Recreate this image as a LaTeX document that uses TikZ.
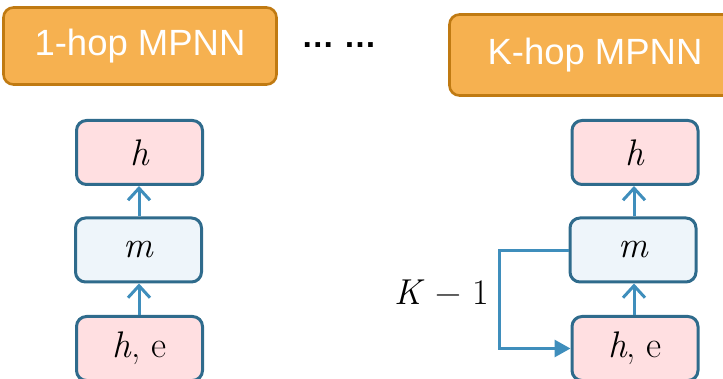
\documentclass[tikz,border=0pt]{standalone}
\usepackage{fontspec}
\newfontfamily\labelfont{Liberation Sans}
\usetikzlibrary{arrows.meta}

\definecolor{hopfill}{HTML}{F6B150}
\definecolor{hopline}{HTML}{C07A12}
\definecolor{statefill}{HTML}{FFDFE1}
\definecolor{msgfill}{HTML}{EEF5FA}
\definecolor{boxline}{HTML}{2F6B8C}
\definecolor{flowline}{HTML}{3F8EBC}

\tikzset{
  hopbox/.style={draw=hopline, fill=hopfill, line width=2.6pt, rounded corners=10pt,
    text=white, font=\labelfont\fontsize{36.5}{40}\selectfont, inner sep=0pt},
  layerbox/.style={draw=boxline, line width=3pt, rounded corners=10pt,
    minimum width=126pt, minimum height=64pt, inner sep=0pt,
    font=\fontsize{37}{40}\selectfont},
  statebox/.style={layerbox, fill=statefill},
  msgbox/.style={layerbox, fill=msgfill},
  upflow/.style={draw=flowline, line width=3pt,
    -{Straight Barb[length=12pt,width=22pt,line width=3pt]}},
  loopflow/.style={draw=flowline, line width=3pt,
    -{Triangle[length=16pt,width=17pt]}}
}

\begin{document}
\begin{tikzpicture}[x=1pt,y=-1pt]
\path[use as bounding box, clip] (0,0) rectangle (723,379);

% hop headers
\node[hopbox, minimum width=273pt, minimum height=77pt] (hop1) at (140,46) {1-hop MPNN};
\node[font=\labelfont\bfseries\fontsize{33}{36}\selectfont, inner sep=0pt] (dots) at (339,45) {… …};
\node[hopbox, minimum width=291pt, minimum height=81pt] (hopK) at (595,55) {K-hop MPNN};

% 1-hop stack
\node[statebox] (h1) at (139.5,152.5) {\itshape h};
\node[msgbox] (m1) at (138.5,250) {\itshape m};
\node[statebox] (he1) at (139.5,348.5) {\textit{h}, e};
\draw[upflow] (he1.north -| 139,0) -- (m1.south -| 139,0);
\draw[upflow] (m1.north -| 139,0) -- (h1.south -| 139,0);

% K-hop stack
\node[statebox] (hK) at (635,152.5) {\itshape h};
\node[msgbox] (mK) at (633,250) {\itshape m};
\node[statebox] (heK) at (635,348.5) {\textit{h}, e};
\draw[upflow] (heK.north -| 634,0) -- (mK.south -| 634,0);
\draw[upflow] (mK.north -| 634,0) -- (hK.south -| 634,0);

% repeated message passing
\coordinate (loopTop) at (499,251);
\draw[loopflow] (mK.west |- loopTop) -- (loopTop) |- (heK.west);
\node[font=\fontsize{36}{40}\selectfont, inner sep=0pt] (reps) at (442,292) {\textit{K} − 1};
\end{tikzpicture}
\end{document}
